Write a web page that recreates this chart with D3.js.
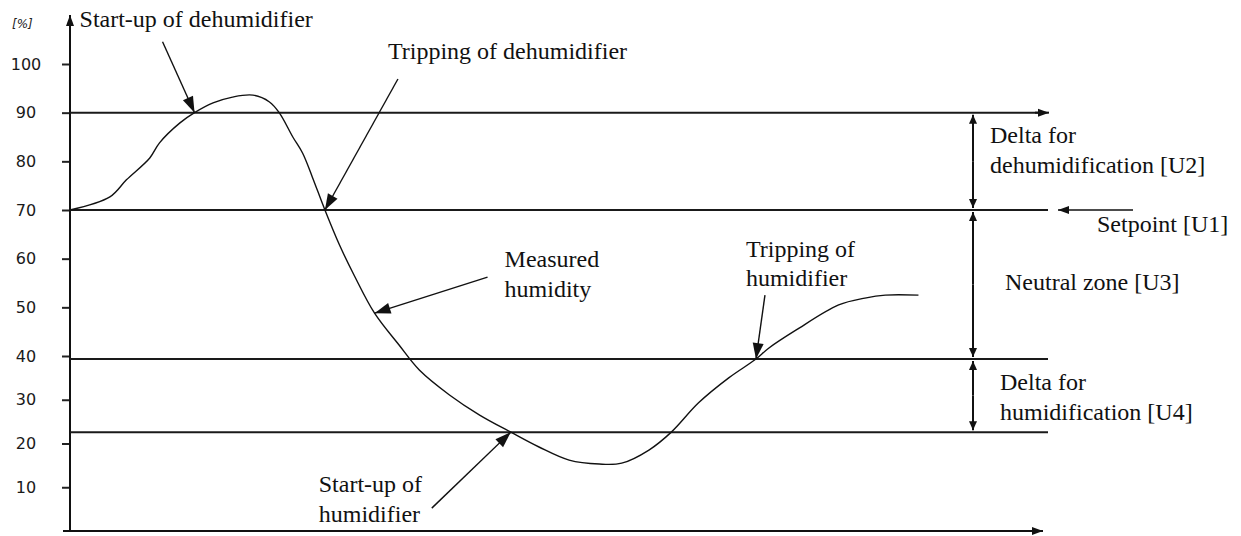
<!DOCTYPE html>
<html>
<head>
<meta charset="utf-8">
<script src="https://cdn.jsdelivr.net/npm/d3@7"></script>
<style>
  body { margin: 0; background: #fff; }
  svg { display: block; }
</style>
</head>
<body>
<div id="chart"></div>
<script>
// measured humidity over time (time in arbitrary units, humidity in %)
var timeVals = [0, 4.1, 5.8, 8.2, 9.2, 11.3, 12.8, 14.7, 16.7, 18.8, 20.5, 21.5, 22.9, 23.9, 24.9, 26.2,
  27.7, 29.2, 31.3, 33.8, 35.9, 39.0, 42.1, 45.3, 48.2, 51.3, 54.4, 56.7, 59.5, 61.8, 64.6, 67.7,
  70.5, 71.8, 74.6, 79.0, 81.7, 83.8, 87.2];
var humidityVals = [70, 72.7, 76.2, 80.7, 83.8, 87.9, 90, 92.0, 93.2, 93.6, 92.2, 90, 85.0, 81.7, 76.8, 70,
  62.8, 56.6, 48.8, 42.3, 36.8, 31.1, 26.5, 22.6, 19.2, 16.2, 15.3, 15.5, 18.5, 22.6, 29.3, 35.0,
  39.3, 41.6, 45.3, 50.5, 51.9, 52.5, 52.5];

var yTicks = [10, 20, 30, 40, 50, 60, 70, 80, 90, 100];

// threshold levels: U2 limit, setpoint U1, neutral zone limit, U4 limit
var levels = [90, 70, 39.3, 22.6];

// curve callouts: text lines and the point on the curve they point to
var callouts = [
  { lines: ["Start-up of dehumidifier"], t: 12.8, h: 90 },
  { lines: ["Tripping of dehumidifier"], t: 26.2, h: 70 },
  { lines: ["Measured", "humidity"], t: 31.3, h: 48.8 },
  { lines: ["Tripping of", "humidifier"], t: 70.5, h: 39.3 },
  { lines: ["Start-up of", "humidifier"], t: 45.3, h: 22.6 }
];
// band labels on the right
var bandLabels = [
  ["Delta for", "dehumidification [U2]"],
  ["Neutral zone [U3]"],
  ["Delta for", "humidification [U4]"]
];
var setpointLabel = "Setpoint [U1]";
var axisUnit = "[%]";

var W = 1241, H = 536;
var SERIF = "'Liberation Serif', 'Times New Roman', 'DejaVu Serif', serif";
var SANS = "'DejaVu Sans', 'Liberation Sans', sans-serif";
var INK = "#111";

var svg = d3.select("#chart").append("svg").attr("width", W).attr("height", H);

var x = d3.scaleLinear().domain([0, 100]).range([70, 1043]);
var y = d3.scaleLinear().domain([0, 40, 100]).range([531, 356, 64]);

// filled triangle arrowhead with its tip at (x2,y2), pointing along (x1,y1)->(x2,y2)
function arrow(x1, y1, x2, y2, len, wid, sw) {
  svg.append("line")
    .attr("x1", x1).attr("y1", y1).attr("x2", x2).attr("y2", y2)
    .attr("stroke", INK).attr("stroke-width", sw);
  var a = Math.atan2(y2 - y1, x2 - x1);
  var bxp = x2 - len * Math.cos(a), byp = y2 - len * Math.sin(a);
  var nx = -Math.sin(a) * wid / 2, ny = Math.cos(a) * wid / 2;
  svg.append("path")
    .attr("d", "M" + x2 + "," + y2 + "L" + (bxp + nx) + "," + (byp + ny) + "L" + (bxp - nx) + "," + (byp - ny) + "Z")
    .attr("fill", INK);
}

// axes
var yAxis = d3.axisLeft(y).tickValues(yTicks).tickSize(8).tickPadding(0);
var gy = svg.append("g").attr("transform", "translate(" + x(0) + ",0)").call(yAxis);
gy.select(".domain").remove();
gy.selectAll(".tick line").attr("stroke", "#222").attr("stroke-width", 2);
gy.selectAll(".tick text")
  .attr("x", -44)
  .attr("text-anchor", "middle")
  .attr("font-family", SANS)
  .attr("font-size", 16)
  .attr("fill", "#1a1a1a");

arrow(x(0), y(0) + 1, x(0), 15, 11, 8, 2);
arrow(63, y(0), x(100), y(0), 11, 8, 2);

svg.append("text")
  .attr("x", 12).attr("y", 28)
  .attr("font-family", SANS)
  .attr("font-style", "italic")
  .attr("font-size", 12)
  .attr("fill", "#222")
  .text(axisUnit);

// threshold lines
svg.selectAll(".level").data(levels).enter().append("line")
  .attr("class", "level")
  .attr("x1", x(0)).attr("x2", function(d, i) { return i === 0 ? 1040 : 1048; })
  .attr("y1", function(d) { return y(d); }).attr("y2", function(d) { return y(d); })
  .attr("stroke", "#1a1a1a").attr("stroke-width", 2);
arrow(1035, y(levels[0]), 1049, y(levels[0]), 11, 8, 2);

// measured humidity curve
var pts = timeVals.map(function(t, i) { return [t, humidityVals[i]]; });
var line = d3.line()
  .x(function(d) { return x(d[0]); })
  .y(function(d) { return y(d[1]); })
  .curve(d3.curveCatmullRom.alpha(0.5));
svg.append("path").datum(pts)
  .attr("d", line)
  .attr("fill", "none")
  .attr("stroke", INK)
  .attr("stroke-width", 1.4);

function multiText(lines, tx, ty, lh) {
  var t = svg.append("text")
    .attr("font-family", SERIF).attr("font-size", 24).attr("fill", INK)
    .attr("x", tx).attr("y", ty);
  lines.forEach(function(s, j) {
    t.append("tspan").attr("x", tx).attr("dy", j === 0 ? 0 : lh).text(s);
  });
}

// callout arrows + text (tail offsets and text offsets in px)
var calloutLayout = [
  { tail: [-32, -71], text: [-115, -86] },
  { tail: [73, -131], text: [63, -151] },
  { tail: [113, -36], text: [130, -46, 30] },
  { tail: [9, -64], text: [-10, -102, 29] },
  { tail: [-79, 76], text: [-192, 60, 30] }
];
callouts.forEach(function(c, i) {
  var L = calloutLayout[i];
  var px = x(c.t), py = y(c.h);
  arrow(px + L.tail[0], py + L.tail[1], px, py, 16, 11, 1.4);
  multiText(c.lines, px + L.text[0], py + L.text[1], L.text[2]);
});

// band double arrows on the right
var bx = 973;
for (var i = 0; i < levels.length - 1; i++) {
  var ya = y(levels[i]) + 2, yb = y(levels[i + 1]) - 2;
  arrow(bx, (ya + yb) / 2, bx, ya, 9, 8, 2);
  arrow(bx, (ya + yb) / 2, bx, yb, 9, 8, 2);
}

var bandLayout = [[990, 143, 30], [1005, 290, 30], [1000, 390, 30]];
bandLabels.forEach(function(lines, i) {
  var L = bandLayout[i];
  multiText(lines, L[0], L[1], L[2]);
});

// setpoint pointer
arrow(1133, y(levels[1]), 1058, y(levels[1]), 11, 8, 1.6);
multiText([setpointLabel], 1097, 232, 0);
</script>
</body>
</html>
